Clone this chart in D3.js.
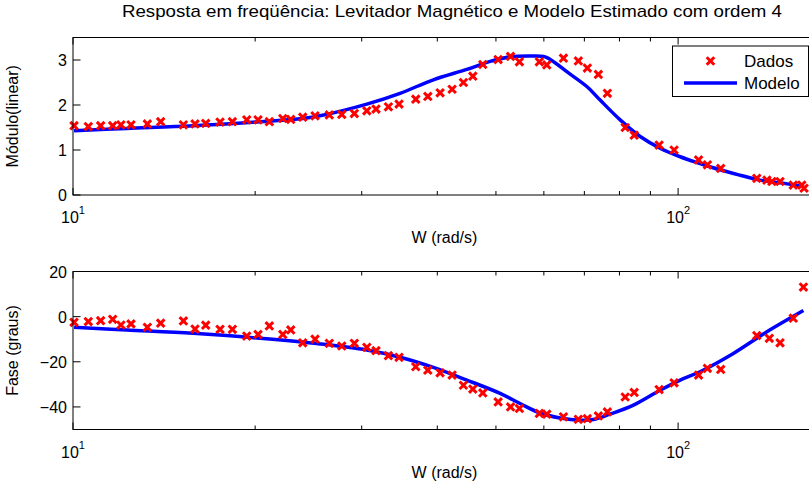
<!DOCTYPE html>
<meta charset="utf-8">
<style>
body { margin: 0; background: #fff; }
svg { display: block; font-family: "Liberation Sans", Arial, Helvetica, sans-serif; }
.model { fill: none; stroke: #0000ff; stroke-width: 3.5; stroke-linejoin: round; }
.dado { fill: none; stroke: #ff0000; stroke-width: 3; }
.box { fill: none; stroke: #000; stroke-width: 1; }
.tick { stroke: #000; stroke-width: 1; }
.lbl { font-size: 16px; fill: #000; }
</style>
<svg width="809" height="484"></svg>
<script src="https://d3js.org/d3.v7.min.js"></script>
<script>

// frequencias (rad/s) e modulo dos dados medidos
var magFreq = [10.04,10.60,11.11,11.63,12.00,12.47,13.27,13.96,15.22,15.91,16.57,17.50,18.34,19.37,20.22,21.11,22.22,22.90,23.97,25.12,
  26.52,27.81,29.17,30.59,31.68,33.21,34.58,36.85,38.58,40.43,42.32,44.18,45.79,47.56,50.42,52.86,
  54.67,58.98,60.67,64.64,68.41,70.80,73.83,76.40,81.76,84.61,93.03,98.49,108.1,111.8,117.6,134.9,140.2,142.9,147.4,155.0,160.1,161.5];
var magData = [1.54,1.52,1.54,1.54,1.56,1.56,1.58,1.63,1.56,1.58,1.59,1.62,1.63,1.67,1.67,1.63,1.70,1.68,1.73,1.76,
  1.78,1.79,1.81,1.87,1.91,1.96,2.02,2.13,2.19,2.27,2.35,2.50,2.64,2.90,3.01,3.08,
  2.96,2.96,2.89,3.04,2.98,2.82,2.68,2.26,1.50,1.33,1.11,1.00,0.78,0.67,0.59,0.37,0.33,0.30,0.30,0.22,0.22,0.15];

// fase dos dados medidos (graus)
var phaseFreq = [10.04,10.60,11.11,11.63,12.00,12.47,13.27,13.96,15.22,15.91,16.57,17.50,18.34,19.37,20.22,21.11,22.22,22.90,23.97,25.12,
  26.52,27.81,29.17,30.59,31.68,33.21,34.58,36.85,38.58,40.43,42.32,44.18,45.79,47.56,50.42,52.86,
  54.67,58.98,60.67,64.64,68.41,70.80,73.83,76.40,81.76,84.61,93.03,98.49,108.1,111.8,117.6,134.9,141.5,147.4,155.0,161.1];
var phaseData = [-2.5,-2.2,-1.8,-1.2,-3.7,-3.2,-4.7,-2.9,-1.9,-5.5,-3.8,-5.6,-5.6,-8.6,-7.9,-4.1,-7.9,-5.9,-11.6,-10.0,
  -11.8,-13.0,-11.8,-13.6,-15.1,-17.3,-18.0,-22.2,-23.7,-24.9,-25.9,-30.4,-32.1,-33.8,-37.8,-40.0,
  -40.7,-42.9,-43.2,-44.4,-45.5,-45.2,-44.0,-42.2,-35.6,-33.6,-32.3,-29.3,-25.9,-22.9,-23.4,-8.4,-9.6,-11.6,-0.7,13.1];

// modelo estimado (ordem 4)
var magModelFreq = [10.04,12.27,15.80,20.38,23.97,25.61,30.59,34.71,39.40,44.75,48.91,52.77,56.94,60.30,62.60,65.47,70.66,74.32,80.21,86.56,93.37,100.8,108.7,117.3,126.6,136.6,147.4,160.1];
var magModel = [1.43,1.48,1.54,1.63,1.70,1.76,2.02,2.26,2.56,2.79,2.97,3.07,3.09,3.07,2.94,2.74,2.41,2.11,1.67,1.30,1.04,0.85,0.70,0.56,0.44,0.33,0.27,0.20];
var phaseModelFreq = [10.04,12.27,15.80,20.38,25.61,30.59,34.71,39.40,44.75,50.80,54.81,59.15,63.83,68.87,72.44,77.20,84.37,93.37,100.8,108.7,123.4,140.2,161.1];
var phaseModel = [-4.7,-5.9,-7.4,-9.6,-12.1,-14.8,-18.0,-22.5,-28.1,-34.0,-38.5,-42.7,-44.9,-45.9,-45.6,-43.2,-39.2,-32.6,-28.1,-24.4,-16.3,-6.7,2.7];

var xMajor = [10, 100];
var xMinor = [20, 30, 40, 50, 60, 70, 80, 90];
var magTicks = [0, 1, 2, 3];
var phaseTicks = [-40, -20, 0, 20];

var svg = d3.select("svg");
var left = 73, right = 816;
var xmark = "M-3.8,-3.8L3.8,3.8M-3.8,3.8L3.8,-3.8";

var x = d3.scaleLog().domain([10, 169]).range([left, right]);

function panel(top, bottom, yDomain, yTicks, yLabel, freqD, valD, freqM, valM) {
  var y = d3.scaleLinear().domain(yDomain).range([bottom, top]);
  var g = svg.append("g");

  // marcas do eixo x (em baixo e em cima, para dentro)
  xMajor.concat(xMinor).forEach(function(f) {
    var len = xMajor.indexOf(f) >= 0 ? 7 : 4;
    g.append("line").attr("class", "tick")
      .attr("x1", x(f)).attr("x2", x(f)).attr("y1", bottom).attr("y2", bottom - len);
    g.append("line").attr("class", "tick")
      .attr("x1", x(f)).attr("x2", x(f)).attr("y1", top).attr("y2", top + len);
  });
  yTicks.forEach(function(t) {
    g.append("line").attr("class", "tick")
      .attr("x1", left).attr("x2", left + 7.5).attr("y1", y(t)).attr("y2", y(t));
    g.append("text").attr("class", "lbl")
      .attr("x", 67).attr("y", y(t) + 6).attr("text-anchor", "end")
      .text(String(t).replace("-", "\u2212"));
  });
  xMajor.forEach(function(f) {
    var t = g.append("text").attr("class", "lbl")
      .attr("x", x(f)).attr("y", bottom + 28).attr("text-anchor", "middle");
    t.append("tspan").text("10");
    t.append("tspan").attr("dy", -9).style("font-size", "11px").text(Math.round(Math.log10(f)));
  });

  g.append("text").attr("class", "lbl")
    .attr("x", (left + right) / 2).attr("y", bottom + 48).attr("text-anchor", "middle")
    .text("W (rad/s)");
  g.append("text").attr("class", "lbl")
    .attr("transform", "translate(18," + ((top + bottom) / 2) + ") rotate(-90)")
    .attr("text-anchor", "middle").text(yLabel);

  var line = d3.line()
    .x(function(d) { return x(d[0]); })
    .y(function(d) { return y(d[1]); })
    .curve(d3.curveCatmullRom.alpha(0.5));

  g.append("path").attr("class", "model")
    .attr("d", line(freqM.map(function(f, i) { return [f, valM[i]]; })));

  g.selectAll(".dado").data(freqD.map(function(f, i) { return [f, valD[i]]; }))
    .enter().append("path").attr("class", "dado")
      .attr("transform", function(d) { return "translate(" + x(d[0]) + "," + y(d[1]) + ")"; })
      .attr("d", xmark);

  g.append("rect").attr("class", "box")
    .attr("x", left).attr("y", top).attr("width", right - left).attr("height", bottom - top);
  return g;
}

panel(37.5, 195, [0, 3.5], magTicks, "Módulo(linear)", magFreq, magData, magModelFreq, magModel);
panel(271.5, 429.5, [-50, 20], phaseTicks, "Fase (graus)", phaseFreq, phaseData, phaseModelFreq, phaseModel);

svg.append("text").attr("class", "lbl")
  .attr("x", 122).attr("y", 17).style("font-size", "17px")
  .attr("textLength", 660).attr("lengthAdjust", "spacingAndGlyphs")
  .text("Resposta em freqüência: Levitador Magnético e Modelo Estimado com ordem 4");

// legenda
var lg = svg.append("g");
lg.append("rect").attr("x", 672.5).attr("y", 46).attr("width", 136).attr("height", 50.5)
  .attr("fill", "#fff").attr("stroke", "#000");
lg.append("path").attr("class", "dado").attr("transform", "translate(710.5,61)").attr("d", xmark);
lg.append("line").attr("x1", 684).attr("x2", 737).attr("y1", 83).attr("y2", 83)
  .attr("stroke", "#0000ff").attr("stroke-width", 3.5);
lg.append("text").attr("class", "lbl").style("font-size", "17px").attr("x", 744).attr("y", 67).text("Dados");
lg.append("text").attr("class", "lbl").style("font-size", "17px").attr("x", 744).attr("y", 89).text("Modelo");

</script>
